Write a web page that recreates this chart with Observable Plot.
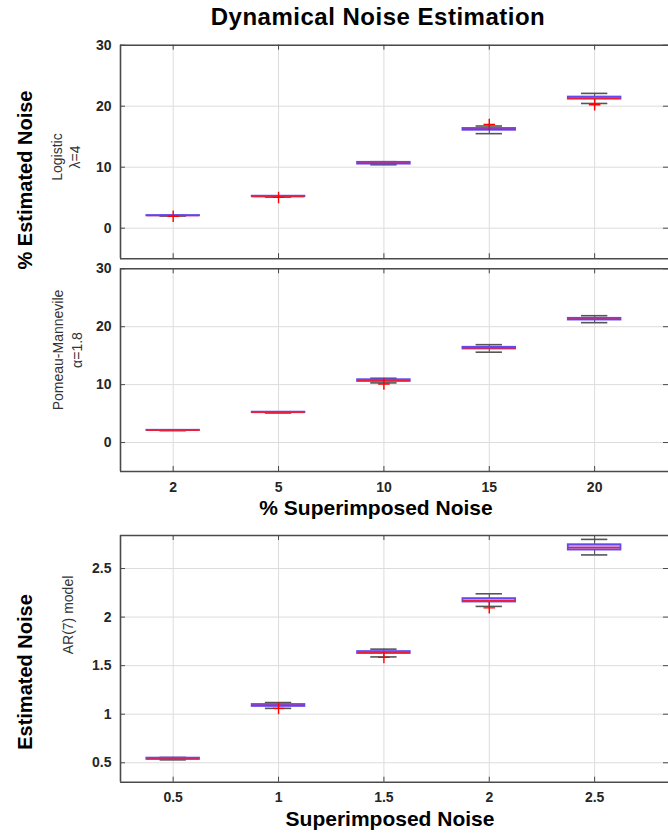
<!DOCTYPE html>
<html><head><meta charset="utf-8">
<script src="https://cdn.jsdelivr.net/npm/d3@7"></script>
<script src="https://cdn.jsdelivr.net/npm/@observablehq/plot@0.6"></script>
<style>
body{margin:0;background:#fff;overflow:hidden}
#wrap{position:relative;width:668px;height:833px;overflow:hidden;font-family:"Liberation Sans",Arial,sans-serif;color:#000}
.abs{position:absolute;white-space:nowrap;line-height:1}
.rot{transform:translate(-50%,-50%) rotate(-90deg);text-align:center}
.ttl{font-weight:bold}
.side{font-size:14px;color:#333}
</style></head><body><div id="wrap"></div>
<script>
// ---- categories / tick labels ----
const pctLabels = ["2","5","10","15","20"];
const arLabels = ["0.5","1","1.5","2","2.5"];
const pctYTicks = [0,10,20,30];
const arYTicks = [0.5,1,1.5,2,2.5];

// ---- Logistic λ=4 ----
const logLo  = [2.0, 5.1, 10.4, 15.5, 20.45];
const logQ1  = [2.03, 5.15, 10.5, 16.05, 21.15];
const logMed = [2.05, 5.2, 10.65, 16.2, 21.3];
const logQ3  = [2.08, 5.25, 10.8, 16.35, 21.5];
const logHi  = [2.1, 5.3, 10.9, 16.75, 22.1];
const logOut = [["2",1.95],["5",5.05],["15",17.0],["20",20.25]];

// ---- Pomeau-Manneville α=1.8 ----
const pmLo  = [2.05, 5.1, 10.3, 15.6, 20.7];
const pmQ1  = [2.08, 5.15, 10.55, 16.15, 21.15];
const pmMed = [2.1, 5.2, 10.7, 16.3, 21.3];
const pmQ3  = [2.12, 5.25, 10.85, 16.45, 21.45];
const pmHi  = [2.15, 5.3, 11.1, 16.9, 21.9];
const pmOut = [["10",10.1]];

// ---- AR(7) model ----
const arLo  = [0.53, 1.06, 1.59, 2.11, 2.64];
const arQ1  = [0.535, 1.08, 1.625, 2.155, 2.69];
const arMed = [0.54, 1.09, 1.635, 2.17, 2.715];
const arQ3  = [0.548, 1.10, 1.645, 2.19, 2.745];
const arHi  = [0.555, 1.12, 1.67, 2.24, 2.80];
const arOut = [["1",1.06],["1.5",1.585],["2",2.095]];

const wrap = document.getElementById("wrap");

function panel(o) {
  const idx = o.labels.map((_, i) => i + 1);
  const rows = o.labels.map((l, i) => ({i: i + 1, lo: o.lo[i], q1: o.q1[i], med: o.med[i], q3: o.q3[i], hi: o.hi[i]}));
  const outs = o.out.map(([l, v]) => ({i: o.labels.indexOf(l) + 1, v}));
  const plotH = o.height - o.mt - o.mb;
  const W = 668, ML = 120;
  const marks = [
    Plot.ruleX(idx, {x: d => d, stroke: "#dcdcdc", strokeWidth: 1}),
    Plot.ruleY(o.yTicks, {y: d => d, stroke: "#dcdcdc", strokeWidth: 1}),
    Plot.ruleX(rows, {x: "i", y1: "q3", y2: "hi", stroke: "#444", strokeWidth: 1}),
    Plot.ruleX(rows, {x: "i", y1: "lo", y2: "q1", stroke: "#444", strokeWidth: 1}),
    Plot.ruleY(rows, {y: "hi", x1: d => d.i - 0.125, x2: d => d.i + 0.125, stroke: "#555", strokeWidth: 1.6}),
    Plot.ruleY(rows, {y: "lo", x1: d => d.i - 0.125, x2: d => d.i + 0.125, stroke: "#555", strokeWidth: 1.6}),
    Plot.rect(rows, {x1: d => d.i - 0.25, x2: d => d.i + 0.25, y1: "q1", y2: "q3", fill: "#d88ccc", stroke: "#6448f0", strokeWidth: 1.8}),
    Plot.ruleY(rows, {y: "med", x1: d => d.i - 0.25, x2: d => d.i + 0.25, stroke: "#e8203c", strokeWidth: 1.3}),
    Plot.dot(outs, {x: "i", y: "v", symbol: "plus", r: 3.8, stroke: "#ff0000", strokeWidth: 1.4}),
    // frame (left, top, bottom; right side lies beyond the picture)
    Plot.ruleX([0.5], {x: d => d, stroke: "#4a4a4a", strokeWidth: 1.6}),
    Plot.ruleY(o.yDomain, {y: d => d, stroke: "#4a4a4a", strokeWidth: 1.6}),
    // inward ticks
    Plot.tickY(o.yTicks, {y: d => d, insetRight: W - ML - 5, stroke: "#4a4a4a", strokeWidth: 1}),
    Plot.tickY(o.yTicks, {y: d => d, insetLeft: W - ML - 5, stroke: "#4a4a4a", strokeWidth: 1}),
    Plot.tickX(idx, {x: d => d, insetBottom: plotH - 5, stroke: "#4a4a4a", strokeWidth: 1}),
    Plot.tickX(idx, {x: d => d, insetTop: plotH - 5, stroke: "#4a4a4a", strokeWidth: 1}),
    Plot.text(o.yTicks, {y: d => d, text: d => String(d), frameAnchor: "left", textAnchor: "end", dx: -9,
      fontSize: 14, fontWeight: "bold", fill: "#262626"})
  ];
  if (o.showX) {
    marks.push(Plot.text(idx, {x: d => d, text: o.labels, frameAnchor: "bottom", lineAnchor: "middle", dy: o.xdy,
      fontSize: 14, fontWeight: "bold", fill: "#262626"}));
  }
  const svg = Plot.plot({
    width: W, height: o.height, marginTop: o.mt, marginBottom: o.mb, marginLeft: ML, marginRight: 0,
    x: {type: "linear", domain: [0.5, 5.72], range: [120, 670], axis: null},
    y: {domain: o.yDomain, axis: null},
    style: {fontFamily: "Liberation Sans, Arial, sans-serif", background: "transparent", overflow: "visible"},
    marks
  });
  svg.style.position = "absolute";
  svg.style.left = "0px";
  svg.style.top = o.top + "px";
  svg.style.overflow = "visible";
  wrap.appendChild(svg);
}

panel({labels: pctLabels, lo: logLo, q1: logQ1, med: logMed, q3: logQ3, hi: logHi, out: logOut,
  yDomain: [-5, 30], yTicks: pctYTicks, top: 30, height: 232, mt: 14.7, mb: 3.8, showX: false});
panel({labels: pctLabels, lo: pmLo, q1: pmQ1, med: pmMed, q3: pmQ3, hi: pmHi, out: pmOut,
  yDomain: [-5, 30], yTicks: pctYTicks, top: 262, height: 258, mt: 6.3, mb: 49, showX: true, xdy: 16.5});
panel({labels: arLabels, lo: arLo, q1: arQ1, med: arMed, q3: arQ3, hi: arHi, out: arOut,
  yDomain: [0.3, 2.84], yTicks: arYTicks, top: 520, height: 313, mt: 15, mb: 51.3, showX: true, xdy: 15.5});

function addText(html, css, cls) {
  const d = document.createElement("div");
  d.className = "abs " + (cls || "");
  d.innerHTML = html;
  Object.assign(d.style, css);
  wrap.appendChild(d);
}
addText("Dynamical Noise Estimation", {left: "378px", top: "4.7px", fontSize: "24px", letterSpacing: "0.5px", transform: "translateX(-50%)"}, "ttl");
addText("% Superimposed Noise", {left: "376px", top: "497px", fontSize: "21px", transform: "translateX(-50%)"}, "ttl");
addText("Superimposed Noise", {left: "390px", top: "808px", fontSize: "21px", transform: "translateX(-50%)"}, "ttl");
addText("% Estimated Noise", {left: "25px", top: "180px", fontSize: "20px"}, "ttl rot");
addText("Estimated Noise", {left: "25px", top: "672px", fontSize: "20px"}, "ttl rot");
addText("Logistic<br>λ=4", {left: "66px", top: "157px", lineHeight: "18px"}, "side rot");
addText("Pomeau-Mannevile<br>α=1.8", {left: "67.5px", top: "350px", lineHeight: "19px"}, "side rot");
addText("AR(7) model", {left: "68px", top: "615px"}, "side rot");
</script></body></html>
